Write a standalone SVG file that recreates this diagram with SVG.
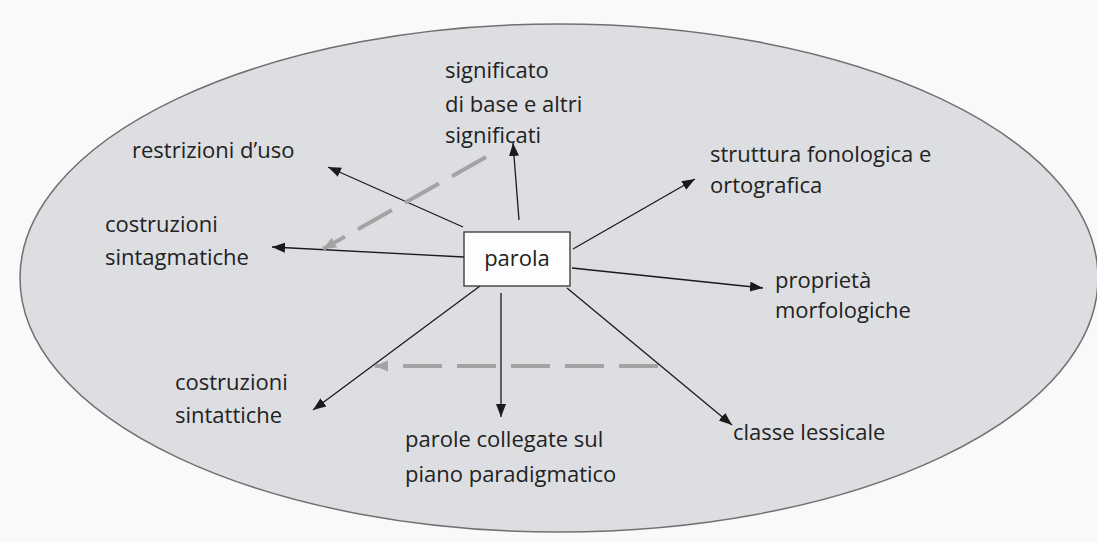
<svg xmlns="http://www.w3.org/2000/svg" width="1097" height="542" viewBox="0 0 1097 542">
<defs>
<style>
.t{font-family:"Open Sans","Liberation Sans",sans-serif;font-size:22px;fill:#222;}
.a{stroke:#1a1a1a;stroke-width:1.3;fill:none;marker-end:url(#ah);}
.d{stroke:#a3a3a3;stroke-width:4;fill:none;stroke-dasharray:39 15;marker-end:url(#gh);}
</style>
<marker id="ah" markerUnits="userSpaceOnUse" markerWidth="14" markerHeight="11" refX="13" refY="5" orient="auto">
<path d="M0,0 L13,5 L0,10 z" fill="#1a1a1a"/>
</marker>
<marker id="gh" markerUnits="userSpaceOnUse" markerWidth="14" markerHeight="12" refX="13" refY="5.5" orient="auto">
<path d="M0,0 L13,5.5 L0,11 z" fill="#a3a3a3"/>
</marker>
</defs>
<rect width="1097" height="542" fill="#f9f9f9"/>
<ellipse id="area" cx="559" cy="278" rx="539" ry="254" fill="#dddee1" stroke="#707070" stroke-width="1.5"/>
<g id="connectors">
<line class="a" x1="519" y1="220" x2="513" y2="143"/>
<line class="a" x1="573" y1="249" x2="695" y2="179"/>
<line class="a" x1="463" y1="227" x2="328" y2="167"/>
<line class="a" x1="464" y1="257" x2="272" y2="247"/>
<line class="a" x1="572" y1="268" x2="763" y2="288"/>
<line class="a" x1="480" y1="286" x2="313" y2="410"/>
<line class="a" x1="501" y1="293" x2="501" y2="417"/>
<line class="a" x1="567" y1="288" x2="732" y2="425"/>
<line class="d" x1="486" y1="157" x2="323" y2="249"/>
<line class="d" x1="658" y1="366" x2="375" y2="366"/>
</g>
<g id="parola">
<rect x="464" y="232" width="106" height="54" fill="#fdfdfd" stroke="#333" stroke-width="1.3"/>
<text class="t" x="517" y="266" text-anchor="middle">parola</text>
</g>
<g id="significato">
<text class="t" x="445" y="78">significato</text>
<text class="t" x="445" y="112">di base e altri</text>
<text class="t" x="445" y="143">significati</text>
</g>
<g id="restrizioni">
<text class="t" x="132" y="158">restrizioni d’uso</text>
</g>
<g id="sintagmatiche">
<text class="t" x="105" y="232">costruzioni</text>
<text class="t" x="105" y="265">sintagmatiche</text>
</g>
<g id="struttura">
<text class="t" x="710" y="162">struttura fonologica e</text>
<text class="t" x="710" y="193">ortografica</text>
</g>
<g id="proprieta">
<text class="t" x="775" y="288">proprietà</text>
<text class="t" x="775" y="318">morfologiche</text>
</g>
<g id="sintattiche">
<text class="t" x="175" y="390">costruzioni</text>
<text class="t" x="175" y="423">sintattiche</text>
</g>
<g id="paradigmatico">
<text class="t" x="405" y="447">parole collegate sul</text>
<text class="t" x="405" y="482">piano paradigmatico</text>
</g>
<g id="classe">
<text class="t" x="733" y="440">classe lessicale</text>
</g>
</svg>
